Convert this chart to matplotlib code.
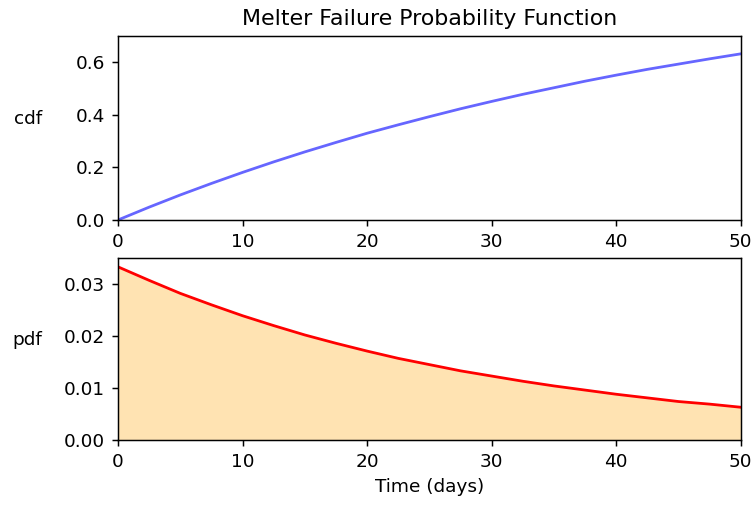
import matplotlib
matplotlib.use('Agg')
import matplotlib.pyplot as plt

plt.rcParams['font.family'] = ['DejaVu Sans']
plt.rcParams['font.size'] = 10

# values, every 2.5 days
days = [0, 2.5, 5, 7.5, 10, 12.5, 15, 17.5, 20, 22.5, 25, 27.5, 30,
        32.5, 35, 37.5, 40, 42.5, 45, 47.5, 50]
cdf = [0.0, 0.0488, 0.0952, 0.139, 0.181, 0.221, 0.259, 0.295, 0.330,
       0.362, 0.393, 0.423, 0.451, 0.478, 0.503, 0.528, 0.551, 0.573,
       0.593, 0.613, 0.632]
pdf = [0.0333, 0.0307, 0.0282, 0.0260, 0.0239, 0.0220, 0.0202, 0.0186,
       0.0171, 0.0157, 0.0145, 0.0133, 0.0123, 0.0113, 0.0104, 0.0096,
       0.0088, 0.0081, 0.0074, 0.0069, 0.0063]

dpi = 133
fig = plt.figure(figsize=(754 / dpi, 505 / dpi), dpi=dpi)
ax1 = fig.add_axes([0.1565, 0.5644, 0.826, 0.3644])
ax2 = fig.add_axes([0.1565, 0.1287, 0.826, 0.3604])

ax1.plot(days, cdf, color='blue', alpha=0.6, linewidth=1.5)
ax1.set_xlim(0, 50)
ax1.set_ylim(0, 0.7)
ax1.set_yticks([0.0, 0.2, 0.4, 0.6])
ax1.set_ylabel('cdf', rotation=0, va='center', ha='center')
ax1.yaxis.set_label_coords(-0.145, 0.55)
ax1.set_title('Melter Failure Probability Function')

ax2.plot(days, pdf, color='red', linewidth=1.5)
ax2.fill_between(days, pdf, color='orange', alpha=0.3, linewidth=0)
ax2.set_xlim(0, 50)
ax2.set_ylim(0, 0.035)
ax2.set_yticks([0.0, 0.01, 0.02, 0.03])
ax2.set_ylabel('pdf', rotation=0, va='center', ha='center')
ax2.yaxis.set_label_coords(-0.145, 0.55)
ax2.set_xlabel('Time (days)')

fig.savefig('out.png', dpi=dpi)
